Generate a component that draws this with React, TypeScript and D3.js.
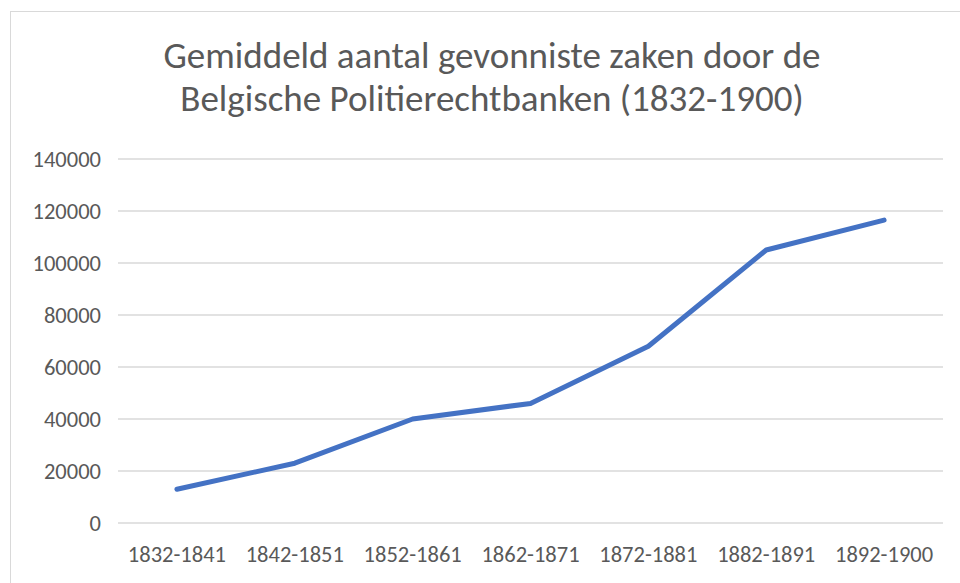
import { line, scaleLinear, scalePoint } from 'd3';
import React from 'react';

const periods = ['1832-1841', '1842-1851', '1852-1861', '1862-1871', '1872-1881', '1882-1891', '1892-1900'];
const cases = [13000, 23000, 40000, 46000, 68000, 105000, 116500];
const yTicks = [0, 20000, 40000, 60000, 80000, 100000, 120000, 140000];
const titleLines = ['Gemiddeld aantal gevonniste zaken door de', 'Belgische Politierechtbanken (1832-1900)'];

const W = 960;
const H = 583;
const plot = { left: 118, right: 943, top: 159, bottom: 523 };
const font = "Calibri, Carlito, 'Open Sans', sans-serif";

const App = () => {
  const x = scalePoint<string>().domain(periods).range([plot.left, plot.right]).padding(0.5);
  const y = scaleLinear().domain([0, 140000]).range([plot.bottom, plot.top]);

  const path = line<number>()
    .x((d, i) => x(periods[i]) as number)
    .y((d) => y(d))(cases);

  return (
    <svg width={W} height={H} style={{ position: 'absolute', left: 0, top: 0, background: '#fff' }}>
      <rect x={10.5} y={11.5} width={966} height={600} fill='#fff' stroke='#d9d9d9' />
      {titleLines.map((t, i) => (
        <text key={t} x={492} y={68 + i * 43} textAnchor='middle' fontFamily={font} fontSize={37} fill='#595959'>
          {t}
        </text>
      ))}
      <g className='grid'>
        {yTicks.map((v) => (
          <line key={v} x1={plot.left} x2={plot.right} y1={y(v)} y2={y(v)} stroke='#d9d9d9' strokeWidth={1.3} />
        ))}
      </g>
      <g className='y-axis'>
        {yTicks.map((v) => (
          <text key={v} x={101} y={y(v)} dy='0.35em' textAnchor='end' fontFamily={font} fontSize={22.5} fill='#595959'>
            {v}
          </text>
        ))}
      </g>
      <g className='x-axis'>
        {periods.map((p) => (
          <text key={p} x={x(p)} y={562} textAnchor='middle' fontFamily={font} fontSize={22.5} fill='#595959'>
            {p}
          </text>
        ))}
      </g>
      <path d={path ?? ''} fill='none' stroke='#4472c4' strokeWidth={5} strokeLinecap='round' strokeLinejoin='round' />
    </svg>
  );
};

export default App;
